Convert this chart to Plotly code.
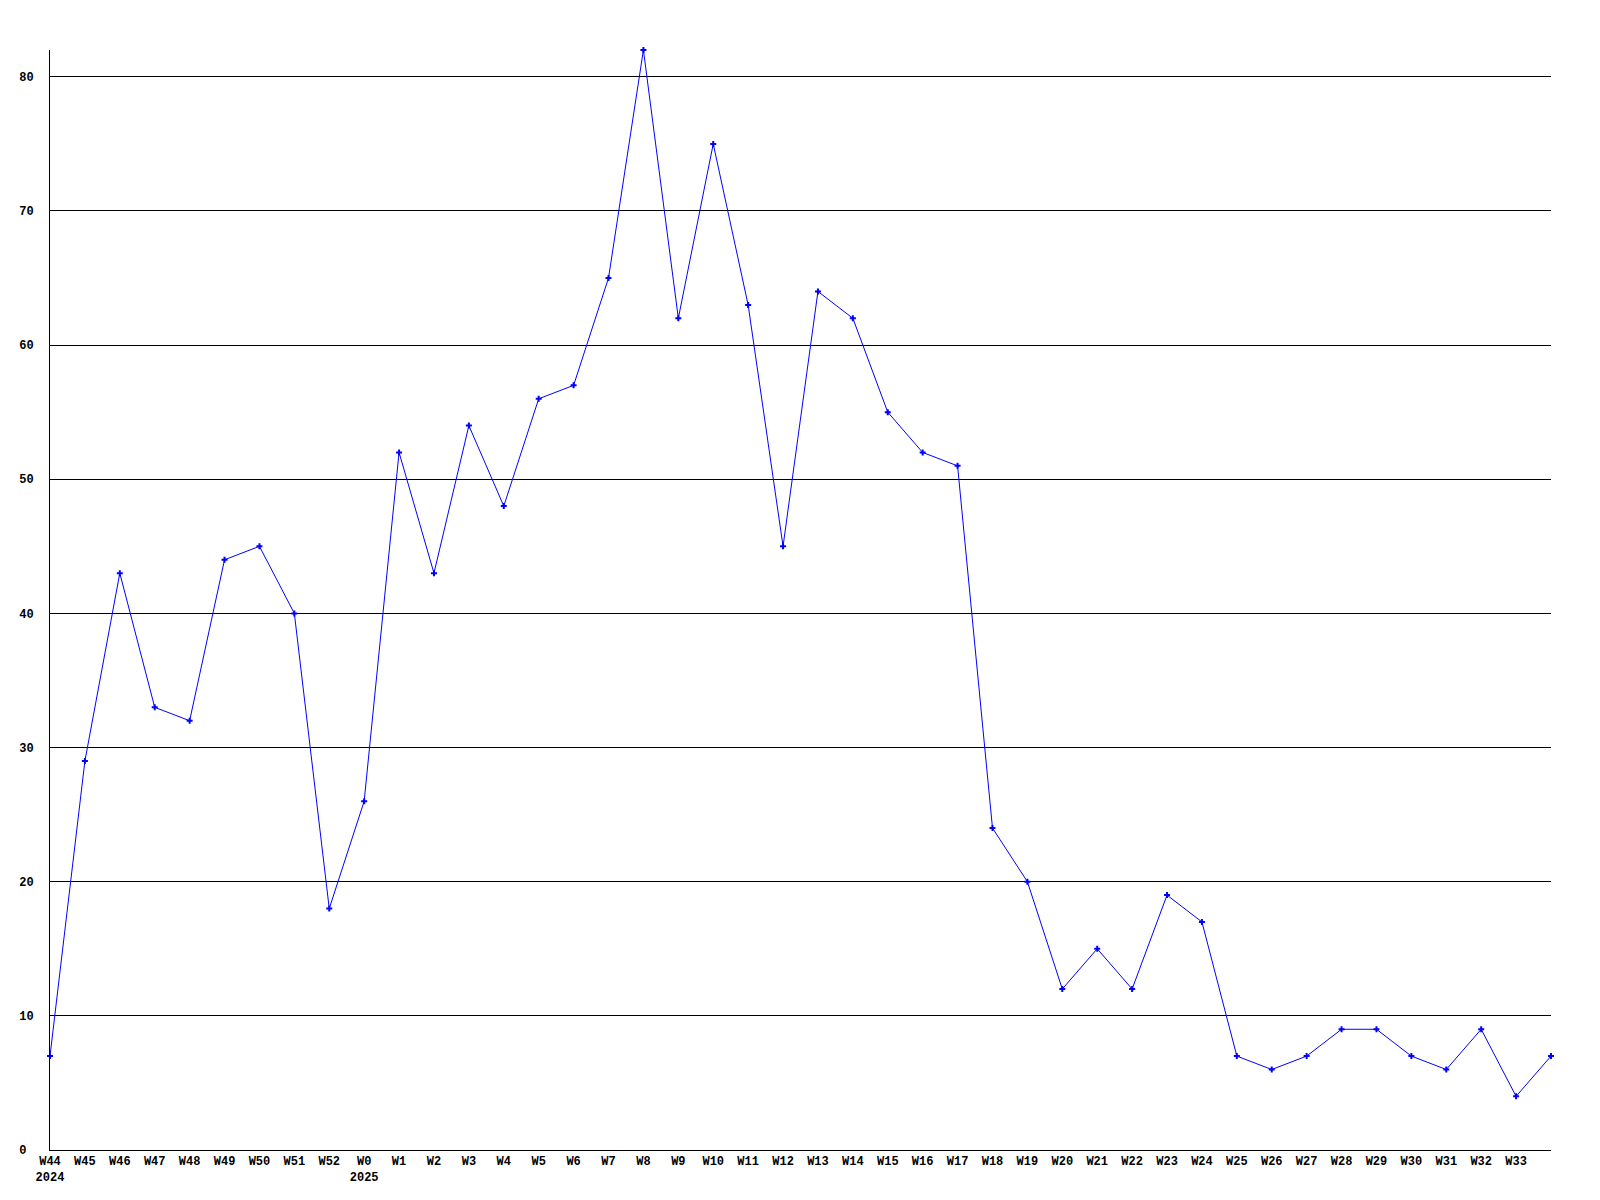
import plotly.graph_objects as go

weeks = ["W44", "W45", "W46", "W47", "W48", "W49", "W50", "W51", "W52",
         "W0", "W1", "W2", "W3", "W4", "W5", "W6", "W7", "W8", "W9", "W10",
         "W11", "W12", "W13", "W14", "W15", "W16", "W17", "W18", "W19", "W20",
         "W21", "W22", "W23", "W24", "W25", "W26", "W27", "W28", "W29", "W30",
         "W31", "W32", "W33", "W34"]
years = {"W44": "2024", "W0": "2025"}
values = [7, 29, 43, 33, 32, 44, 45, 40, 18,
          26, 52, 43, 54, 48, 56, 57, 65, 82, 62, 75,
          63, 45, 64, 62, 55, 52, 51, 24, 20, 12,
          15, 12, 19, 17, 7, 6, 7, 9, 9, 7,
          6, 9, 4, 7]
labelled_weeks = weeks[:-1]
y_ticks = [0, 10, 20, 30, 40, 50, 60, 70, 80]

x = list(range(len(weeks)))
tick_text = [w + ("<br>" + years[w] if w in years else "") for w in labelled_weeks]

font = dict(family="Liberation Mono, DejaVu Sans Mono, monospace", size=12, color="black")

fig = go.Figure()
fig.add_trace(go.Scatter(
    x=x, y=values, mode="lines+markers",
    line=dict(color="#0000ff", width=1),
    marker=dict(symbol="cross", size=5, color="#0000ff"),
    cliponaxis=False,
))

fig.update_layout(
    width=1600, height=1200,
    margin=dict(l=42, r=57, t=42, b=58),
    paper_bgcolor="white", plot_bgcolor="white",
    showlegend=False,
    font=font,
)
fig.update_xaxes(
    range=[0, len(weeks) - 1],
    tickvals=list(range(len(labelled_weeks))),
    ticktext=["<b>" + t.replace("<br>", "</b><br><b>") + "</b>" for t in tick_text],
    showgrid=False, zeroline=False,
    showline=True, linecolor="black", linewidth=1,
    ticks="", tickfont=font,
)
fig.update_yaxes(
    range=[0, 82],
    tickvals=y_ticks,
    ticktext=["<b>" + f"{v:<2}".replace(" ", "\u00a0") + "</b>" for v in y_ticks],
    showgrid=True, gridcolor="black", gridwidth=1,
    zeroline=False,
    showline=True, linecolor="black", linewidth=1,
    ticks="", ticklabelstandoff=13, tickfont=font,
)

fig.write_html("out.html")
